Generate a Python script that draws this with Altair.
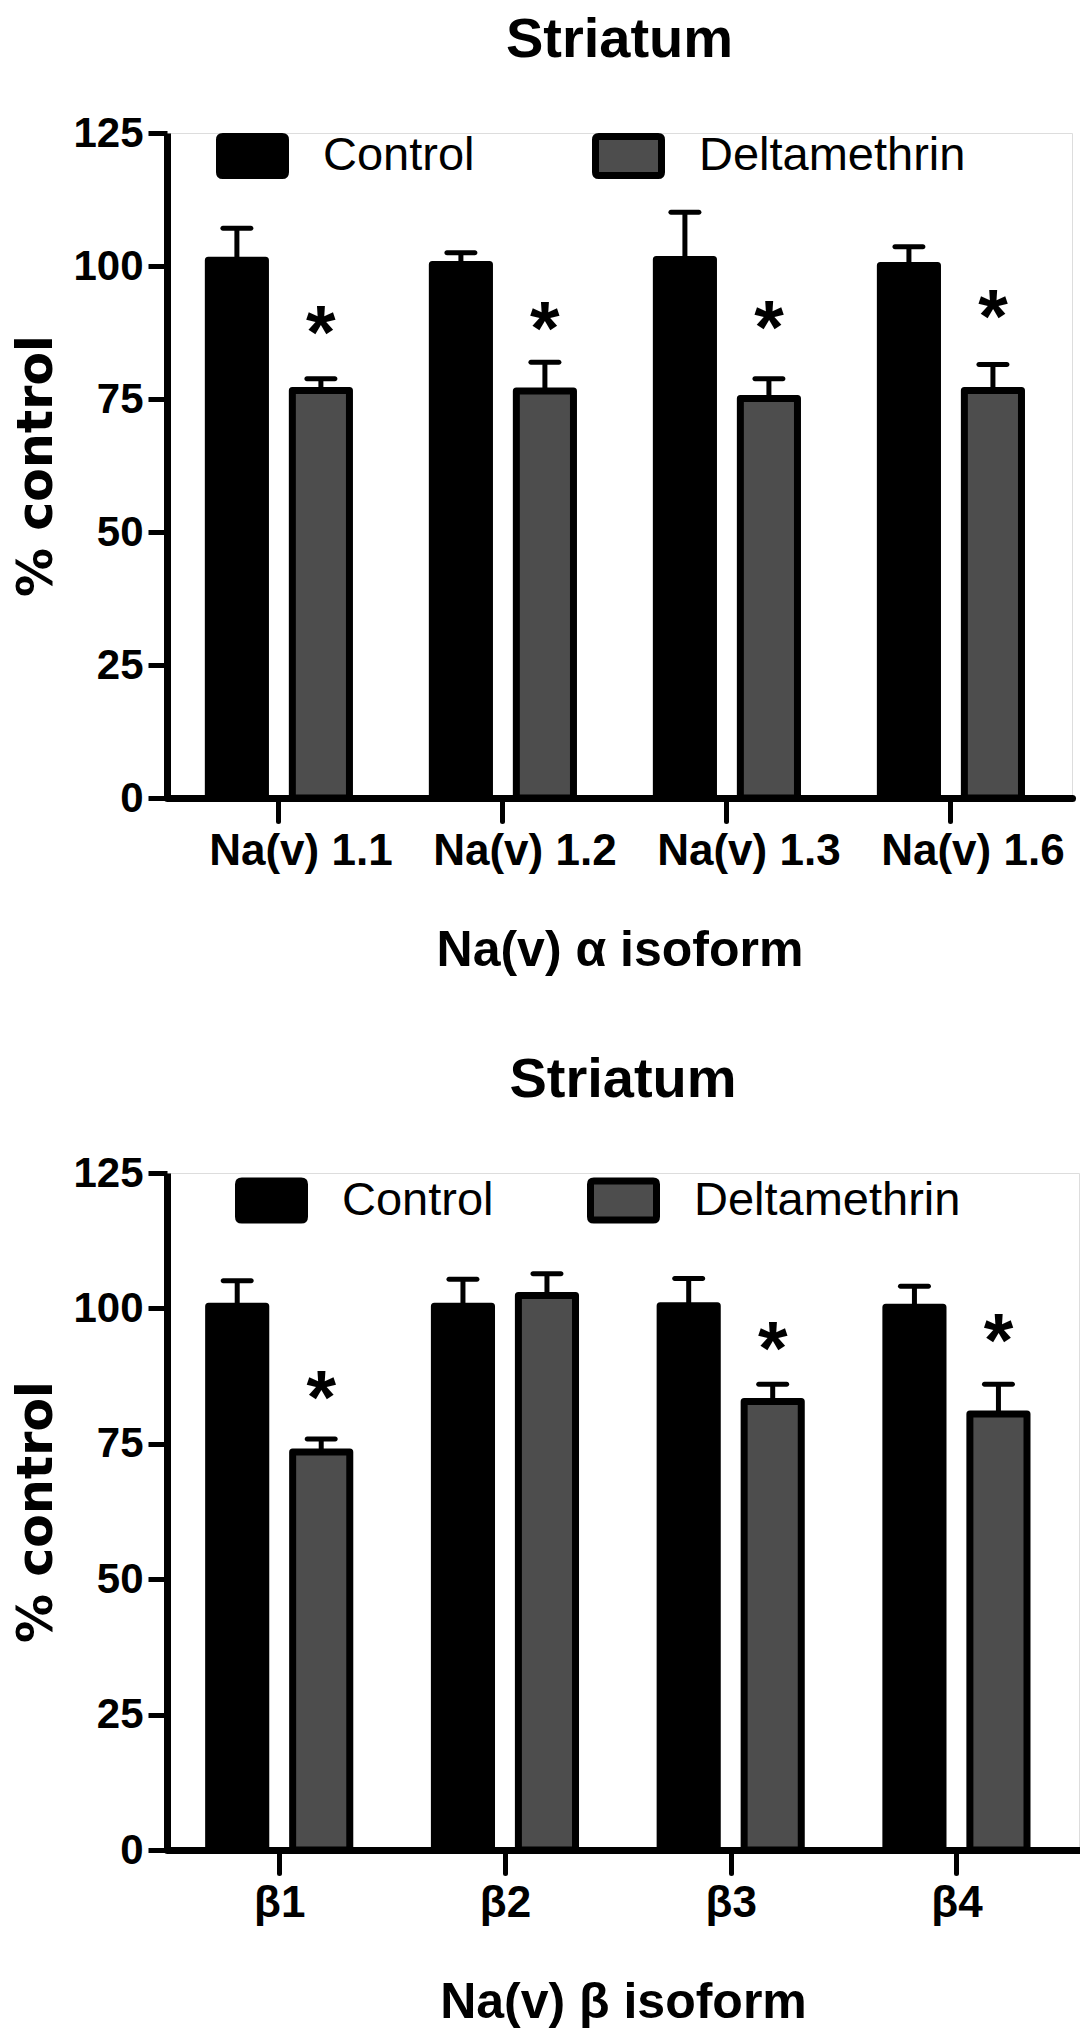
import altair as alt
import pandas as pd

# ---------------- data ----------------
series = ["Control", "Deltamethrin"]
series_colors = ["#000000", "#4d4d4d"]
panel_title = "Striatum"
y_ticks = [0, 25, 50, 75, 100, 125]

alpha_labels = ["Na(v) 1.1", "Na(v) 1.2", "Na(v) 1.3", "Na(v) 1.6"]
alpha_control = [101.1, 100.3, 101.2, 100.1]
alpha_control_sem = [6.0, 2.2, 8.9, 3.5]
alpha_delta = [76.6, 76.5, 75.1, 76.6]
alpha_delta_sem = [2.2, 5.4, 3.7, 4.9]
alpha_star = [90.4, 91.1, 91.4, 93.4]

beta_labels = ["β1", "β2", "β3", "β4"]
beta_control = [100.4, 100.4, 100.5, 100.2]
beta_control_sem = [4.7, 5.0, 5.0, 3.9]
beta_delta = [73.5, 102.4, 82.8, 80.5]
beta_delta_sem = [2.4, 4.0, 3.2, 5.5]
beta_star = [86.5, None, 95.4, 96.9]


def make_df(labels, ctrl, ctrl_sem, delt, delt_sem, stars):
    rows = []
    for i, lab in enumerate(labels):
        rows.append(dict(cat=lab, group="Control", value=ctrl[i],
                         hi=ctrl[i] + ctrl_sem[i], star=None))
        rows.append(dict(cat=lab, group="Deltamethrin", value=delt[i],
                         hi=delt[i] + delt_sem[i], star=stars[i]))
    return pd.DataFrame(rows)


SYMBOL = ("M-0.9,-0.59H0.9Q1,-0.59 1,-0.49V0.49Q1,0.59 0.9,0.59"
          "H-0.9Q-1,0.59 -1,0.49V-0.49Q-1,-0.59 -0.9,-0.59Z")
BOLD = "Liberation Sans, Arial, sans-serif"


def panel(df, labels, xtitle, width, height, label_dx, legend_x, legend_y, col_pad):
    xscale = alt.Scale(domain=labels, paddingInner=0.37, paddingOuter=0.205, align=0.45)
    x = alt.X("cat:N", scale=xscale, sort=labels,
              axis=alt.Axis(title=xtitle, labelAngle=0, labelFont=BOLD,
                            labelFontWeight="bold", labelFontSize=44,
                            labelColor="black", labelPadding=8, labelOffset=label_dx,
                            labelLimit=0,
                            tickSize=23, tickWidth=5, tickColor="black", tickCap="round",
                            domainWidth=7, domainColor="black", domainCap="round",
                            titleFont=BOLD, titleFontWeight="bold", titleFontSize=50,
                            titleColor="black", titlePadding=52))
    xoff = alt.XOffset("group:N", sort=series,
                       scale=alt.Scale(domain=series, paddingInner=0.32, paddingOuter=0))
    yscale = alt.Scale(domain=[0, 125], nice=False, zero=True)
    y = alt.Y("value:Q", scale=yscale,
              axis=alt.Axis(title="% control", values=y_ticks, grid=False,
                            labelFont=BOLD, labelFontWeight="bold", labelFontSize=42,
                            labelColor="black", labelPadding=5,
                            tickSize=19, tickWidth=5, tickColor="black",
                            domainWidth=7, domainColor="black",
                            titleFont="DejaVu Sans", titleFontWeight="bold",
                            titleFontSize=49, titleColor="black", titlePadding=11))
    color = alt.Color("group:N", sort=series,
                      scale=alt.Scale(domain=series, range=series_colors),
                      legend=alt.Legend(title=None, orient="none", legendX=legend_x,
                                        legendY=legend_y, direction="horizontal",
                                        symbolType=SYMBOL, symbolSize=4356,
                                        symbolStrokeColor="black", symbolStrokeWidth=7,
                                        symbolOpacity=1,
                                        labelFont=BOLD, labelFontSize=47,
                                        labelColor="black", labelOffset=34,
                                        labelLimit=0, columnPadding=col_pad, padding=0))
    base = alt.Chart(df)
    bars = base.mark_bar(stroke="black", strokeWidth=7, strokeJoin="round",
                         opacity=1).encode(x=x, xOffset=xoff, y=y, color=color)
    stems = base.mark_rule(color="black", strokeWidth=5).encode(
        x=x, xOffset=xoff, y=alt.Y("value:Q", scale=yscale), y2="hi:Q")
    caps = base.mark_tick(color="black", size=33, thickness=5, cornerRadius=2.5,
                          opacity=1).encode(
        x=x, xOffset=xoff, y=alt.Y("hi:Q", scale=yscale))
    stars = base.transform_filter("isValid(datum.star)").mark_text(
        text="*", font=BOLD, fontWeight="bold", fontSize=76, color="black",
        baseline="alphabetic", dy=41).encode(
        x=x, xOffset=xoff, y=alt.Y("star:Q", scale=yscale))
    return alt.layer(bars, stems, caps, stars).properties(
        width=width, height=height,
        title=alt.TitleParams(panel_title, font=BOLD, fontWeight="bold", fontSize=56,
                              color="black", anchor="middle", frame="group",
                              baseline="alphabetic", offset=-1))


df_a = make_df(alpha_labels, alpha_control, alpha_control_sem,
               alpha_delta, alpha_delta_sem, alpha_star)
df_b = make_df(beta_labels, beta_control, beta_control_sem,
               beta_delta, beta_delta_sem, beta_star)

top = panel(df_a, alpha_labels, "Na(v) α isoform", 905, 665, 22, 49, -13.5, 106)
bottom = panel(df_b, beta_labels, "Na(v) β isoform", 912, 677, 0, 68, -9, 82)

chart = alt.vconcat(top, bottom, spacing=75).resolve_scale(
    color="independent").properties(
    padding={"left": 4, "top": 3, "right": 0, "bottom": 0}
).configure_view(stroke=None).configure(background="white")

chart.save("out.html", embed_options={"renderer": "svg", "actions": False})
